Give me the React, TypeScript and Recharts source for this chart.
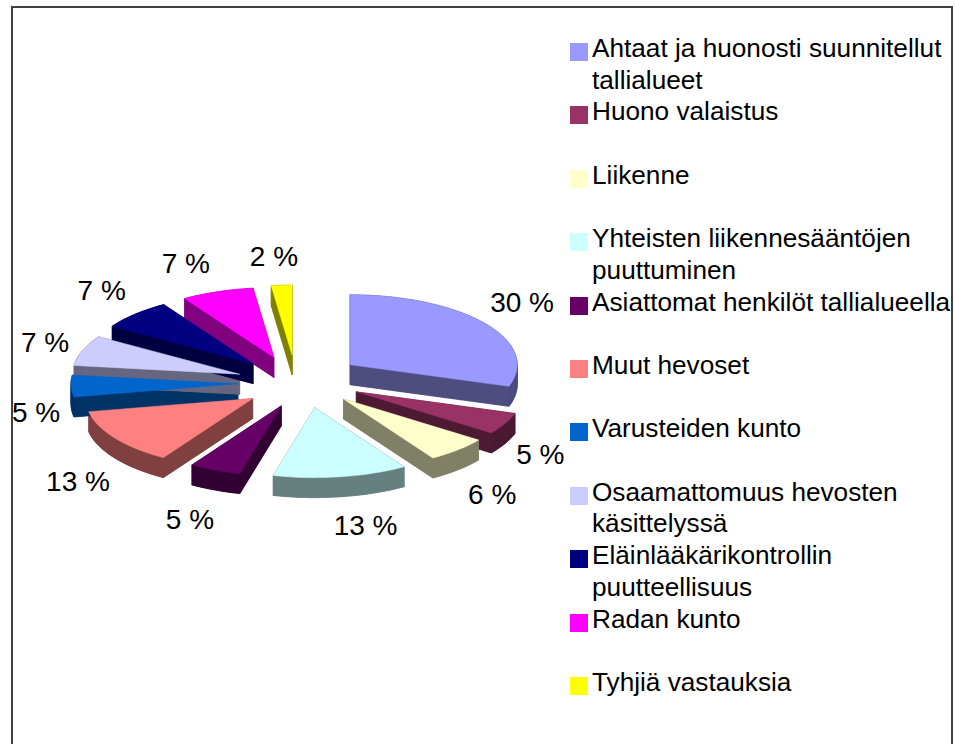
import { PieChart, Pie, Legend } from "recharts";

const categories = [
  "Ahtaat ja huonosti suunnitellut tallialueet",
  "Huono valaistus",
  "Liikenne",
  "Yhteisten liikennesääntöjen puuttuminen",
  "Asiattomat henkilöt tallialueella",
  "Muut hevoset",
  "Varusteiden kunto",
  "Osaamattomuus hevosten käsittelyssä",
  "Eläinlääkärikontrollin puutteellisuus",
  "Radan kunto",
  "Tyhjiä vastauksia",
];
const percents = [30, 5, 6, 13, 5, 13, 5, 7, 7, 7, 2];
const colors = [
  "#9999FF", "#993366", "#FFFFCC", "#CCFFFF", "#660066", "#FF8080",
  "#0066CC", "#CCCCFF", "#000080", "#FF00FF", "#FFFF00",
];

// hand nudges (dx, dy) for the percent labels, the original placement is not quite elliptical
const labelNudges = [
  [1, -4], [-3, 5], [5, 3], [22, -5], [-3, 0], [2, 16],
  [7, 27], [0, 4], [-7, -1], [-23, 1], [-10, 1],
];
// same for the pulled-out slices themselves
const sliceNudges = [
  [-1, -1], [0, -1], [0, -1], [4, 1], [5, 1], [3, 3],
  [-1, 2], [-3, 2], [-4, 1], [-6, 1], [-5, 0],
];

const tableData = categories.map((name, i) => ({
  name,
  value: percents[i],
  fill: colors[i],
}));

const RADIUS = 167;
const SQUASH = 0.419;
const EXPLODE = 62;
const DEPTH = 20;
const FONT = "'Liberation Sans', Arial, sans-serif";
const LEGEND_SIZE = 26.2;
const LABEL_SIZE = 28;

const toRad = (deg: number) => (deg * Math.PI) / 180;

const darken = (hex: string) => {
  const n = parseInt(hex.slice(1), 16);
  const half = (v: number) => Math.round(v / 2).toString(16).padStart(2, "0");
  return `#${half((n >> 16) & 255)}${half((n >> 8) & 255)}${half(n & 255)}`;
};

// outline of one flattened, pulled-out slice, from the angles the Pie worked out
function slicePoints(p: any, index: number) {
  const mid = toRad((p.startAngle + p.endAngle) / 2);
  const nudge = sliceNudges[index];
  const ox = p.cx + EXPLODE * Math.cos(mid) + nudge[0];
  const oy = p.cy - EXPLODE * SQUASH * Math.sin(mid) + nudge[1];
  const pts: [number, number][] = [[ox, oy]];
  const steps = Math.max(2, Math.ceil(Math.abs(p.endAngle - p.startAngle) / 2));
  for (let i = 0; i <= steps; i++) {
    const a = toRad(p.startAngle + ((p.endAngle - p.startAngle) * i) / steps);
    pts.push([
      ox + p.outerRadius * Math.cos(a),
      oy - p.outerRadius * SQUASH * Math.sin(a),
    ]);
  }
  return pts;
}

const toPath = (pts: [number, number][]) =>
  "M" + pts.map((q) => `${q[0].toFixed(2)},${q[1].toFixed(2)}`).join("L") + "Z";

function WallShape(p: any, index: number) {
  const pts = slicePoints(p, index);
  const wall = darken(p.fill);
  const quads = pts.map((q, i) => {
    const r = pts[(i + 1) % pts.length];
    return toPath([q, r, [r[0], r[1] + DEPTH], [q[0], q[1] + DEPTH]]);
  });
  const bottom = toPath(pts.map((q) => [q[0], q[1] + DEPTH] as [number, number]));
  return (
    <g>
      <path d={bottom} fill={wall} stroke={wall} strokeWidth={0.5} />
      {quads.map((d, i) => (
        <path key={i} d={d} fill={wall} stroke={wall} strokeWidth={0.5} />
      ))}
    </g>
  );
}

function TopShape(p: any, index: number) {
  return <path d={toPath(slicePoints(p, index))} fill={p.fill} stroke={p.fill} strokeWidth={0.5} />;
}

function renderPercentLabel(p: any) {
  const mid = toRad(p.midAngle);
  const cosUp = Math.sin(mid);
  const apexX = p.cx + EXPLODE * Math.cos(mid);
  const apexY = p.cy - EXPLODE * SQUASH * cosUp;
  const nudge = labelNudges[p.index];
  const x = apexX + 210 * Math.cos(mid) + nudge[0];
  const y = apexY - cosUp * (cosUp > 0 ? 100 : 125) + nudge[1];
  return (
    <text
      key={p.index}
      x={x}
      y={y}
      textAnchor="middle"
      dominantBaseline="central"
      fill="#000"
      stroke="none"
      fontFamily={FONT}
      fontSize={LABEL_SIZE}
    >
      {`${p.value} %`}
    </text>
  );
}

function LegendRows({ payload }: any) {
  // both Pies report their slices, keep one entry per category in data order
  const rows = categories.map((name) => (payload || []).find((item: any) => item.value === name)).filter(Boolean);
  return (
    <div style={{ position: "absolute", left: 0, top: 0, fontFamily: FONT, fontSize: LEGEND_SIZE, lineHeight: "31.5px", color: "#000" }}>
      {rows.map((item: any, i: number) => (
        <div key={item.value} style={{ position: "absolute", left: 570, top: 33 + i * 63.4, width: 385 }}>
          <div style={{ position: "absolute", left: 0, top: 10, width: 18, height: 18, background: item.color }} />
          <div style={{ marginLeft: 22, width: 362 }}>{item.value}</div>
        </div>
      ))}
    </div>
  );
}

export default function App() {
  return (
    <div style={{ position: "absolute", left: 0, top: 0, width: 955, height: 744, overflow: "hidden", background: "#fff" }}>
      <div style={{ position: "absolute", left: 11, top: 6, width: 938, height: 800, border: "2px solid #404040" }} />
      <PieChart width={955} height={744} margin={{ top: 0, right: 0, bottom: 0, left: 0 }}>
        {/* walls first so every top face sits above them */}
        <Pie
          data={tableData}
          dataKey="value"
          nameKey="name"
          cx={301}
          cy={381}
          outerRadius={RADIUS}
          startAngle={90}
          endAngle={-270}
          shape={WallShape}
          legendType="none"
          isAnimationActive={false}
        />
        <Pie
          data={tableData}
          dataKey="value"
          nameKey="name"
          cx={301}
          cy={381}
          outerRadius={RADIUS}
          startAngle={90}
          endAngle={-270}
          shape={TopShape}
          label={renderPercentLabel}
          labelLine={false}
          isAnimationActive={false}
        />
        <Legend content={LegendRows} wrapperStyle={{ left: 0, top: 0, width: 955, height: 744 }} />
      </PieChart>
    </div>
  );
}
